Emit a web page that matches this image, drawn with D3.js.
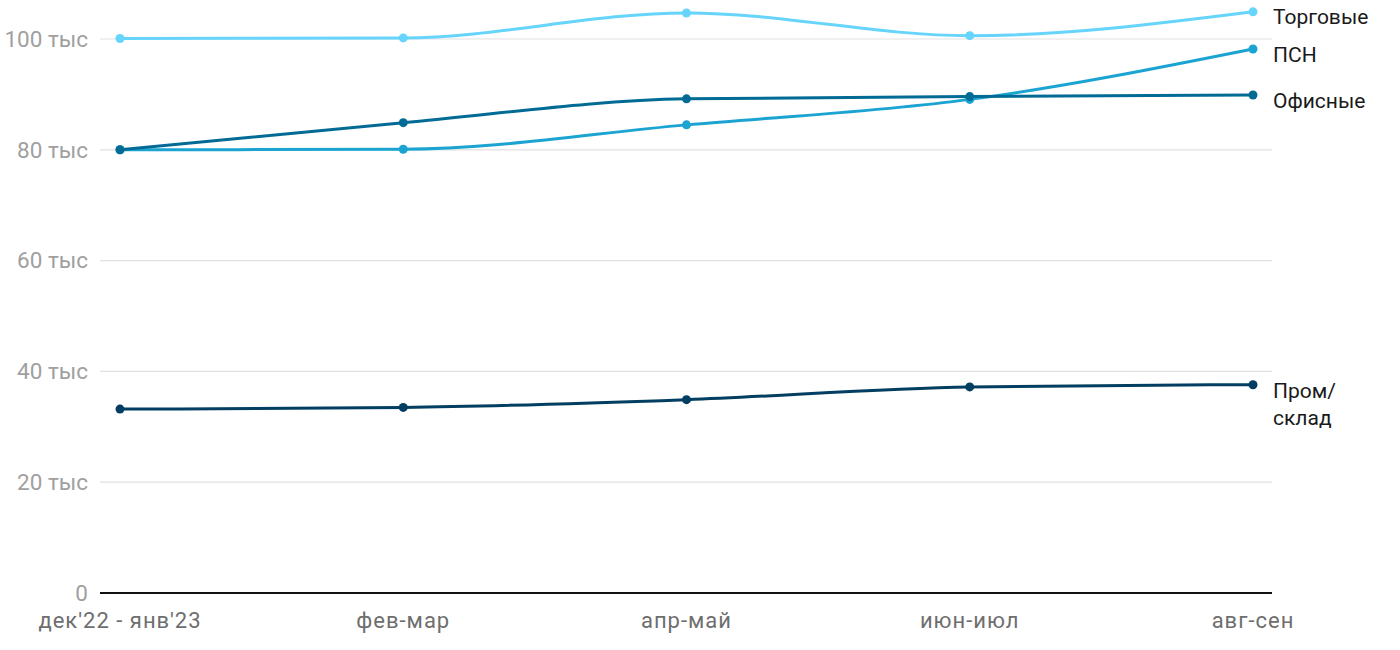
<!DOCTYPE html>
<html><head><meta charset="utf-8">
<script src="https://cdn.jsdelivr.net/npm/d3@7"></script>
<style>body{margin:0;background:#fff;font-family:Roboto,"Noto Sans",sans-serif;}</style>
</head><body><svg id="c" width="1400" height="650"></svg>
<script>
const categories = ["дек'22 - янв'23","фев-мар","апр-май","июн-июл","авг-сен"];
const torgovye = [100.1, 100.2, 104.7, 100.6, 104.9];
const psn = [80.0, 80.1, 84.5, 89.1, 98.2];
const ofisnye = [80.0, 84.9, 89.2, 89.6, 89.9];
const promsklad = [33.2, 33.5, 34.9, 37.2, 37.6];
const yTicks = [0, 20, 40, 60, 80, 100];
const seriesNames = ["Торговые","ПСН","Офисные","Пром/склад"];
const colors = ["#66d4fb","#1ba4d2","#026b95","#023e62"];

const series = [torgovye, psn, ofisnye, promsklad];
const svg = d3.select("#c");
const L = 100, R = 1272, T = 39, B = 593;
const x = d3.scalePoint().domain(categories).range([120, 1253]);
const y = d3.scaleLinear().domain([0, 100]).range([B, T]);

// grid
svg.append("g").selectAll("line").data(yTicks.filter(d=>d>0)).join("line")
  .attr("x1", L).attr("x2", R).attr("y1", d=>y(d)).attr("y2", d=>y(d))
  .attr("stroke", "#e1e1e1").attr("stroke-width", 1.2);
svg.append("g").selectAll("text").data(yTicks).join("text")
  .attr("x", 88).attr("y", d=>y(d)).attr("dy", "0.35em").attr("text-anchor","end")
  .attr("fill","#a0a0a0").attr("font-size", 22.5)
  .text(d=> d===0 ? "0" : d + " тыс");
svg.append("line").attr("x1", L).attr("x2", R).attr("y1", B).attr("y2", B)
  .attr("stroke","#111").attr("stroke-width", 2);
svg.append("g").selectAll("text").data(categories).join("text")
  .attr("x", d=>x(d)).attr("y", 628).attr("text-anchor","middle")
  .attr("fill","#6e6e6e").attr("font-size", 22).attr("letter-spacing", "1px").text(d=>d);

const line = d3.line().x((d,i)=>x(categories[i])).y(d=>y(d)).curve(d3.curveMonotoneX);
series.forEach((s, k) => {
  const g = svg.append("g");
  g.append("path").attr("d", line(s)).attr("fill","none").attr("stroke", colors[k]).attr("stroke-width", 3);
  g.selectAll("circle").data(s).join("circle")
    .attr("cx",(d,i)=>x(categories[i])).attr("cy", d=>y(d)).attr("r", 4.5).attr("fill", colors[k]);
});

// labels
const labelY = [y(torgovye[4]) + 5, y(psn[4]) + 6, y(ofisnye[4]) + 6, y(promsklad[4]) + 6];
seriesNames.forEach((n, k) => {
  const t = svg.append("text").attr("x", 1273).attr("y", labelY[k]).attr("dy","0.35em")
    .attr("fill","#1a1a1a").attr("font-size", 21);
  if (n === "Пром/склад") {
    t.append("tspan").attr("x",1273).text("Пром/");
    t.append("tspan").attr("x",1273).attr("dy","1.3em").text("склад");
  } else t.text(n);
});
</script></body></html>
